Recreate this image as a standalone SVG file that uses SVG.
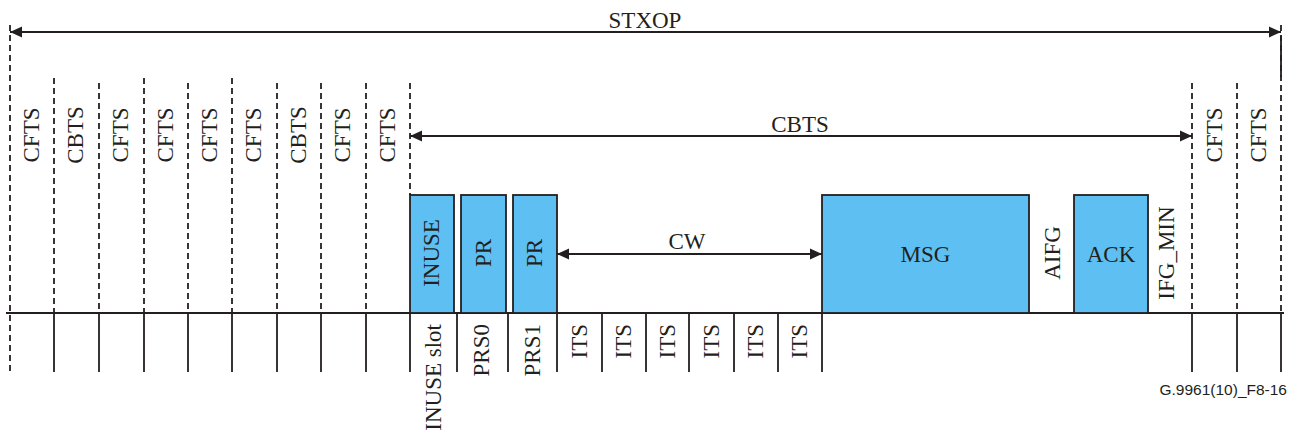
<svg xmlns="http://www.w3.org/2000/svg" width="1299" height="433" viewBox="0 0 1299 433">
<style>
.ln{stroke:#231f20;stroke-width:1.8;fill:none}
.dash{stroke:#231f20;stroke-width:1.8;fill:none;stroke-dasharray:6 4}
.box{fill:#5ebff2;stroke:#231f20;stroke-width:1.8}
.t{font-family:"Liberation Serif","Times New Roman",serif;font-size:23px;fill:#231f20}
.v{text-anchor:middle}
.ve{text-anchor:end}
.id{font-family:"Liberation Sans",Arial,sans-serif;font-size:15.5px;fill:#231f20;text-anchor:end}
</style>
<defs>
<marker id="ah" viewBox="0 0 12 12" refX="12" refY="6" markerWidth="12" markerHeight="12" markerUnits="userSpaceOnUse" orient="auto-start-reverse">
<path d="M0,0.5 L12,6 L0,11.5 z" fill="#231f20"/>
</marker>
</defs>
<rect width="1299" height="433" fill="#fff"/>
<g id="connectors">
<line class="ln" x1="6" y1="313" x2="1284" y2="313"/>
<line class="dash" x1="10" y1="25" x2="10" y2="372"/>
<g class="dash">
<line x1="54" y1="78" x2="54" y2="313"/>
<line x1="99" y1="83" x2="99" y2="313"/>
<line x1="144" y1="78" x2="144" y2="313"/>
<line x1="188" y1="83" x2="188" y2="313"/>
<line x1="232" y1="78" x2="232" y2="313"/>
<line x1="277" y1="83" x2="277" y2="313"/>
<line x1="321" y1="83" x2="321" y2="313"/>
<line x1="366" y1="83" x2="366" y2="313"/>
<line x1="410" y1="83" x2="410" y2="195"/>
<line x1="1192" y1="83" x2="1192" y2="313"/>
<line x1="1237" y1="83" x2="1237" y2="313"/>
<line x1="1281" y1="25" x2="1281" y2="313"/>
</g>
<line class="ln" x1="1281" y1="36" x2="1281" y2="77"/>
<g class="ln">
<line x1="54" y1="313" x2="54" y2="372"/>
<line x1="99" y1="313" x2="99" y2="372"/>
<line x1="144" y1="313" x2="144" y2="372"/>
<line x1="188" y1="313" x2="188" y2="372"/>
<line x1="232" y1="313" x2="232" y2="372"/>
<line x1="277" y1="313" x2="277" y2="372"/>
<line x1="321" y1="313" x2="321" y2="372"/>
<line x1="366" y1="313" x2="366" y2="372"/>
<line x1="410" y1="313" x2="410" y2="372"/>
<line x1="457" y1="313" x2="457" y2="372"/>
<line x1="508" y1="313" x2="508" y2="372"/>
<line x1="557" y1="313" x2="557" y2="372"/>
<line x1="602" y1="313" x2="602" y2="372"/>
<line x1="646" y1="313" x2="646" y2="372"/>
<line x1="689" y1="313" x2="689" y2="372"/>
<line x1="734" y1="313" x2="734" y2="372"/>
<line x1="778" y1="313" x2="778" y2="372"/>
<line x1="822" y1="313" x2="822" y2="372"/>
<line x1="1192" y1="313" x2="1192" y2="372"/>
<line x1="1237" y1="313" x2="1237" y2="372"/>
<line x1="1281" y1="313" x2="1281" y2="372"/>
</g>
<line class="ln" x1="10" y1="32" x2="1281" y2="32" marker-start="url(#ah)" marker-end="url(#ah)"/>
<line class="ln" x1="410" y1="136" x2="1192" y2="136" marker-start="url(#ah)" marker-end="url(#ah)"/>
<line class="ln" x1="557" y1="254" x2="822" y2="254" marker-start="url(#ah)" marker-end="url(#ah)"/>
</g>
<g id="labels-arrows">
<text class="t v" x="645" y="28">STXOP</text>
<text class="t v" x="800" y="132">CBTS</text>
<text class="t v" x="687" y="249">CW</text>
</g>
<g id="slots-top">
<text class="t v" transform="translate(38.5,135) rotate(-90)">CFTS</text>
<text class="t v" transform="translate(83,135) rotate(-90)">CBTS</text>
<text class="t v" transform="translate(128,135) rotate(-90)">CFTS</text>
<text class="t v" transform="translate(172.5,135) rotate(-90)">CFTS</text>
<text class="t v" transform="translate(216.5,135) rotate(-90)">CFTS</text>
<text class="t v" transform="translate(261,135) rotate(-90)">CFTS</text>
<text class="t v" transform="translate(305.5,135) rotate(-90)">CBTS</text>
<text class="t v" transform="translate(350,135) rotate(-90)">CFTS</text>
<text class="t v" transform="translate(394.5,135) rotate(-90)">CFTS</text>
<text class="t v" transform="translate(1221.5,135) rotate(-90)">CFTS</text>
<text class="t v" transform="translate(1266,135) rotate(-90)">CFTS</text>
</g>
<g id="inuse">
<rect class="box" x="410" y="195" width="44" height="118"/>
<text class="t v" transform="translate(439,253) rotate(-90)">INUSE</text>
</g>
<g id="pr0">
<rect class="box" x="461" y="195" width="45" height="118"/>
<text class="t v" transform="translate(490.5,253) rotate(-90)">PR</text>
</g>
<g id="pr1">
<rect class="box" x="513" y="195" width="44" height="118"/>
<text class="t v" transform="translate(542,253) rotate(-90)">PR</text>
</g>
<g id="msg">
<rect class="box" x="822" y="195" width="207" height="118"/>
<text class="t v" x="925.5" y="262">MSG</text>
</g>
<g id="aifg">
<text class="t v" transform="translate(1060,253) rotate(-90)">AIFG</text>
</g>
<g id="ack">
<rect class="box" x="1074" y="195" width="74" height="118"/>
<text class="t v" x="1111" y="262">ACK</text>
</g>
<g id="ifgmin">
<text class="t v" transform="translate(1174,253) rotate(-90)">IFG_MIN</text>
</g>
<g id="slots-bottom">
<text class="t ve" transform="translate(440.5,324) rotate(-90)">INUSE slot</text>
<text class="t ve" transform="translate(489,324) rotate(-90)">PRS0</text>
<text class="t ve" transform="translate(540,324) rotate(-90)">PRS1</text>
<text class="t ve" transform="translate(586.5,324) rotate(-90)">ITS</text>
<text class="t ve" transform="translate(631,324) rotate(-90)">ITS</text>
<text class="t ve" transform="translate(674.5,324) rotate(-90)">ITS</text>
<text class="t ve" transform="translate(718.5,324) rotate(-90)">ITS</text>
<text class="t ve" transform="translate(763,324) rotate(-90)">ITS</text>
<text class="t ve" transform="translate(807,324) rotate(-90)">ITS</text>
</g>
<text class="id" x="1287" y="395">G.9961(10)_F8-16</text>
</svg>
